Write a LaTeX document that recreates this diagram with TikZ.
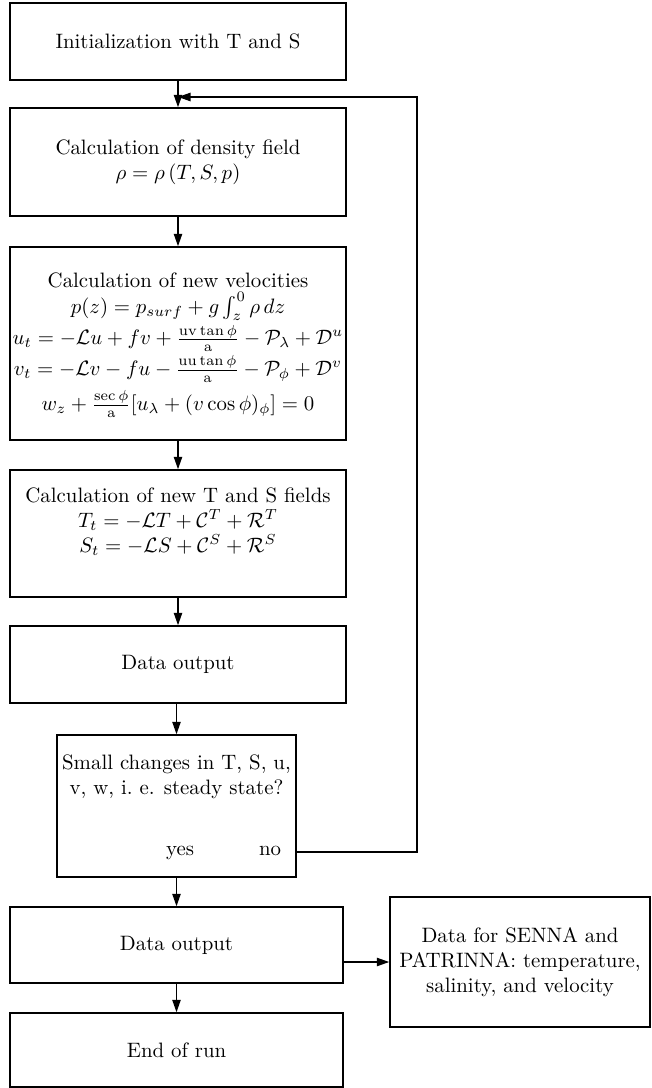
\documentclass[tikz,border=0pt]{standalone}
\usetikzlibrary{arrows.meta,fit,calc}
\begin{document}
\begin{tikzpicture}[x=0.48pt,y=-0.48pt,
  box/.style={draw, line width=0.7pt, inner sep=0pt},
  txt/.style={align=center, inner sep=0pt},
  arr/.style={line width=0.7pt, -{Triangle[length=6pt,width=4pt]}},
  ln/.style={line width=0.7pt}]
\useasboundingbox (0,0) rectangle (651,1088);
% boxes
\node[box, fit={(10,3) (346,80)}] (init) {};
\node[box, fit={(10,108) (346,216)}] (dens) {};
\node[box, fit={(10,247) (346,440)}] (vel) {};
\node[box, fit={(10,470) (346,597)}] (ts) {};
\node[box, fit={(10,626) (346,703)}] (dout1) {};
\node[box, fit={(57,735) (296,877)}] (dec) {};
\node[box, fit={(10,907) (343,983)}] (dout2) {};
\node[box, fit={(10,1013) (343,1087)}] (endrun) {};
\node[box, fit={(390,897) (650,1027)}] (rbox) {};
% texts
\node[txt] (tvelh) at (178,280) {Calculation of new velocities};
\node[txt, anchor=north] (tvel) at (178,292) {$p(z)=p_{surf}+g\int_z^0\rho\,dz$\\[1pt]
 $u_t=-\mathcal{L}u+fv+\frac{\mathrm{uv}\tan\phi}{\mathrm{a}}-\mathcal{P}_\lambda+\mathcal{D}^u$\\[1pt]
 $v_t=-\mathcal{L}v-fu-\frac{\mathrm{uu}\tan\phi}{\mathrm{a}}-\mathcal{P}_\phi+\mathcal{D}^v$\\[3pt]
 $w_z+\frac{\sec\phi}{\mathrm{a}}[u_\lambda+(v\cos\phi)_\phi]=0$};
\node[txt] (tinit) at (init.center) {Initialization with T and S};
\node[txt] (tdens) at (dens.center) {Calculation of density field\\ $\rho=\rho\,(T,S,p)$};
\node[txt] (tts) at ($(ts.center)+(0,-12)$) {Calculation of new T and S fields\\
 $T_t=-\mathcal{L}T+\mathcal{C}^T+\mathcal{R}^T$\\
 $S_t=-\mathcal{L}S+\mathcal{C}^S+\mathcal{R}^S$};
\node[txt] (tdout1) at (dout1.center) {Data output};
\node[txt] (tdec) at (176.5,777) {Small changes in T, S, u,\\ v, w, i.\ e. steady state?};
\node[txt, anchor=base] (tyes) at (180,855) {yes};
\node[txt, anchor=base] (tno) at (270,855) {no};
\node[txt] (tdout2) at (dout2.center) {Data output};
\node[txt] (tend) at (endrun.center) {End of run};
\node[txt] (trbox) at (rbox.center) {Data for SENNA and\\ PATRINNA: temperature,\\ salinity, and velocity};
% connectors
\draw[arr] (init.south) -- (dens.north);
\draw[arr] (dens.south) -- (vel.north);
\draw[arr] (vel.south) -- (ts.north);
\draw[arr] (ts.south) -- (dout1.north);
\draw[arr] (dec.north |- dout1.south) -- (dec.north);
\draw[arr] (dec.south) -- (dec.south |- dout2.north);
\draw[arr] (dec.south |- dout2.south) -- (dec.south |- endrun.north);
\draw[arr] (dout2.east |- rbox.west) -- (rbox.west);
\coordinate (noout) at (296,852);
\coordinate (loopA) at (417,852);
\coordinate (loopB) at (417,97);
\coordinate (loopin) at (178,97);
\draw[arr] (dec.east |- noout) -- (loopA) -- (loopB) -- (loopin);
\end{tikzpicture}
\end{document}
